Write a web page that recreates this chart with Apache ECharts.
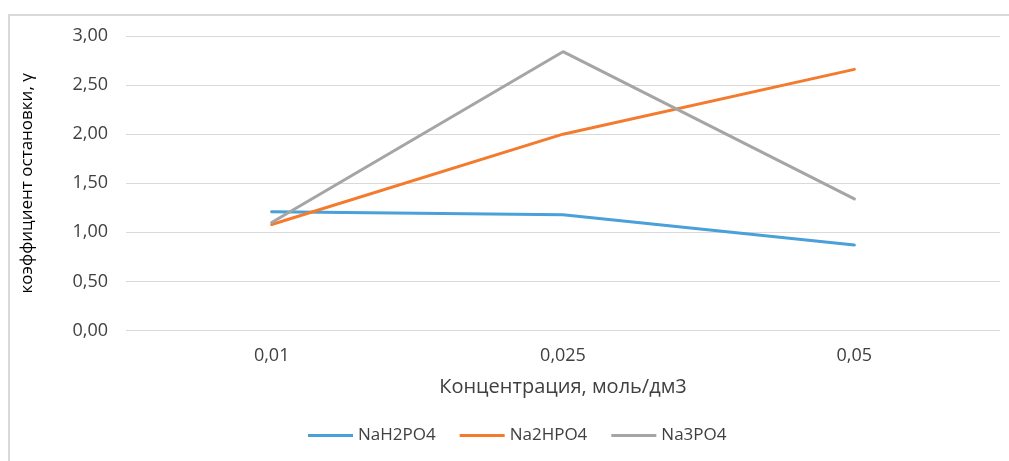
<!DOCTYPE html>
<html><head><meta charset="utf-8">
<script src="https://cdn.jsdelivr.net/npm/echarts@6/dist/echarts.min.js"></script>
<style>html,body{margin:0;padding:0;background:#fff}#c{width:1009px;height:461px}</style>
</head><body><div id="c"></div>
<script>
var categories = ['0,01', '0,025', '0,05'];
var seriesNames = ['NaH2PO4', 'Na2HPO4', 'Na3PO4'];
var nah2po4 = [1.21, 1.18, 0.87];
var na2hpo4 = [1.08, 2.00, 2.66];
var na3po4 = [1.10, 2.84, 1.34];
var colors = ['#4aa0d8', '#f47b2e', '#a5a5a5'];
var font = 'Open Sans';
var chart = echarts.init(document.getElementById('c'));
var data = [nah2po4, na2hpo4, na3po4];
chart.setOption({
  animation: false,
  color: colors,
  graphic: [
    {type: 'polyline', shape: {points: [[9, 461], [9, 15], [1009, 15]]}, style: {stroke: '#d9d9d9', lineWidth: 2, fill: null}}
  ],
  grid: {left: 126, right: 9, top: 36, bottom: 130.5},
  legend: {
    top: 427, left: 308, padding: 0,
    itemWidth: 45, itemHeight: 3, itemGap: 24,
    icon: 'rect',
    textStyle: {color: '#404040', fontSize: 17, fontFamily: font},
    data: seriesNames
  },
  xAxis: {
    type: 'category', data: categories,
    name: 'Концентрация, моль/дм3', nameLocation: 'middle', nameGap: 47,
    nameTextStyle: {color: '#404040', fontSize: 20, fontFamily: font},
    axisLine: {show: false}, axisTick: {show: false},
    axisLabel: {color: '#404040', fontSize: 18, fontFamily: font, margin: 16}
  },
  yAxis: {
    type: 'value', min: 0, max: 3, interval: 0.5,
    name: 'коэффициент остановки, γ', nameLocation: 'middle', nameGap: 90,
    nameTextStyle: {color: '#000', fontSize: 17, fontFamily: font},
    axisLabel: {color: '#404040', fontSize: 18, fontFamily: font, margin: 18,
      formatter: function (v) { return v.toFixed(2).replace('.', ','); }},
    splitLine: {lineStyle: {color: '#d9d9d9', width: 1}},
    axisLine: {show: false}, axisTick: {show: false}
  },
  series: seriesNames.map(function (n, i) {
    return {name: n, type: 'line', data: data[i], symbol: 'none',
      lineStyle: {width: 3, color: colors[i], cap: 'round'}};
  })
});
</script></body></html>
